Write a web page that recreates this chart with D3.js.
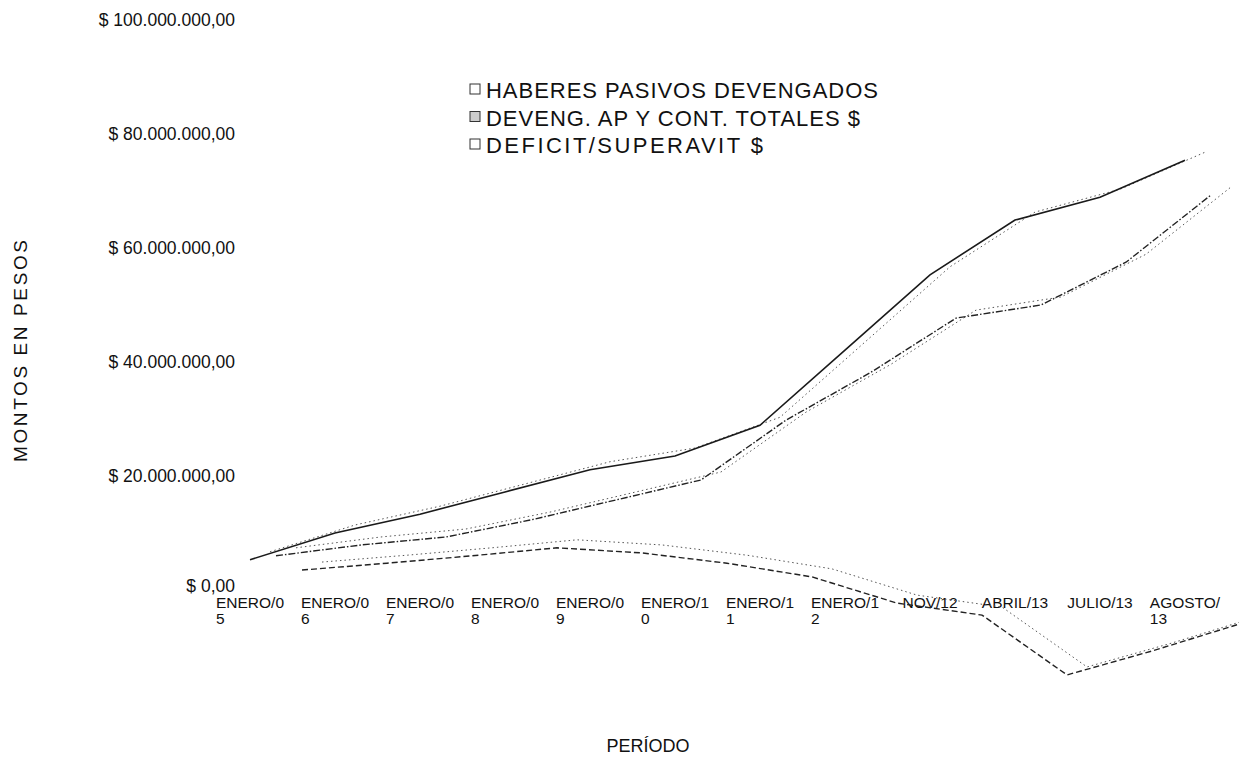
<!DOCTYPE html>
<html>
<head>
<meta charset="utf-8">
<script src="https://cdnjs.cloudflare.com/ajax/libs/d3/7.8.5/d3.min.js"></script>
<style>
  body { margin: 0; background: #fff; }
  text { font-family: "Liberation Sans", Arial, sans-serif; fill: #111; }
</style>
</head>
<body>
<div id="chart"></div>
<script>
// Periods and their (wrapped) tick labels
const periods = ["ENERO/05", "ENERO/06", "ENERO/07", "ENERO/08", "ENERO/09", "ENERO/10",
    "ENERO/11", "ENERO/12", "NOV/12", "ABRIL/13", "JULIO/13", "AGOSTO/13"];
const tickLabels = ["ENERO/0\n5", "ENERO/0\n6", "ENERO/0\n7", "ENERO/0\n8", "ENERO/0\n9", "ENERO/1\n0",
    "ENERO/1\n1", "ENERO/1\n2", "NOV/12", "ABRIL/13", "JULIO/13", "AGOSTO/\n13"];

// Series values, in pesos
const haberes = [5.3e6, 10.0e6, 13.3e6, 17.2e6, 21.1e6, 23.5e6, 28.9e6, 42.1e6, 55.3e6, 64.9e6, 68.9e6, 75.4e6];
const deveng = [6.0e6, 7.9e6, 9.3e6, 12.3e6, 15.8e6, 19.3e6, 29.8e6, 38.2e6, 47.7e6, 50.0e6, 57.5e6, 69.3e6];
const deficit = [3.5e6, 4.7e6, 6.0e6, 7.4e6, 6.5e6, 4.7e6, 2.3e6, -2.3e6, -4.4e6, -14.9e6, -10.7e6, -6.1e6];

const seriesNames = ["HABERES PASIVOS DEVENGADOS", "DEVENG. AP Y CONT. TOTALES $", "DEFICIT/SUPERAVIT $"];
const legendWidths = [392, 374, 277];
const yTicks = [0, 20e6, 40e6, 60e6, 80e6, 100e6];

const width = 1239, height = 779;

const svg = d3.select("#chart").append("svg")
    .attr("width", width)
    .attr("height", height);

const locale = d3.formatLocale({ decimal: ",", thousands: ".", grouping: [3], currency: ["$ ", ""] });
const fmt = locale.format("$,.2f");

const x = d3.scaleBand()
    .domain(periods)
    .range([207.5, 1227.5]);

const y = d3.scaleLinear()
    .domain([0, 100e6])
    .range([590, 20]);

// y axis (labels only)
const yAxis = svg.append("g")
    .attr("transform", "translate(235,0)")
    .call(d3.axisLeft(y).tickValues(yTicks).tickSize(0).tickPadding(0).tickFormat(fmt));
yAxis.select(".domain").remove();
yAxis.selectAll("text")
    .style("font-family", '"Liberation Sans", Arial, sans-serif')
    .style("font-size", "17.5px")
    .attr("fill", "#111")
    .attr("dy", d => d === 0 ? "0.1em" : "0.32em");

// x axis (wrapped labels)
const xAxis = svg.append("g")
    .attr("transform", "translate(0,596)")
    .call(d3.axisBottom(x).tickSize(0).tickPadding(0).tickFormat(""));
xAxis.select(".domain").remove();
xAxis.selectAll(".tick").each(function(d, i) {
    const lines = tickLabels[i].split("\n");
    const t = d3.select(this).append("text")
        .attr("fill", "#111")
        .style("font-family", '"Liberation Sans", Arial, sans-serif')
        .style("font-size", "15.5px")
        .attr("text-anchor", "start");
    lines.forEach((ln, j) => {
        t.append("tspan").attr("x", 0).attr("dy", j === 0 ? "0.8em" : "1.0em").text(ln);
    });
    const first = t.select("tspan").node();
    const w = Math.min(first.getComputedTextLength(), 80);
    t.selectAll("tspan").attr("x", -w / 2);
});

// lines, each series pushed back in depth like the 3D original
const depth = [0, 26, 52];
const back = { dx: 20, dy: -8 };
const allSeries = [haberes, deveng, deficit];
const frontStyles = [
    { dash: null, width: 1.6, color: "#1a1a1a" },
    { dash: "7,2,1.5,2", width: 1.4, color: "#222" },
    { dash: "6,3", width: 1.4, color: "#222" }
];

allSeries.forEach((vals, k) => {
    const line = d3.line()
        .x((v, i) => x(periods[i]) + x.bandwidth() / 2 + depth[k])
        .y(v => y(v));
    const backLine = d3.line()
        .x((v, i) => x(periods[i]) + x.bandwidth() / 2 + depth[k] + back.dx)
        .y(v => y(v) + back.dy);

    svg.append("path")
        .datum(vals)
        .attr("fill", "none")
        .attr("stroke", "#555")
        .attr("stroke-width", 1)
        .attr("stroke-dasharray", "1.5,3")
        .attr("d", backLine);

    svg.append("path")
        .datum(vals)
        .attr("fill", "none")
        .attr("stroke", frontStyles[k].color)
        .attr("stroke-width", frontStyles[k].width)
        .attr("stroke-dasharray", frontStyles[k].dash)
        .attr("d", line);
});

// legend
const legend = svg.append("g").attr("transform", "translate(470,80)");
seriesNames.forEach((name, i) => {
    const g = legend.append("g").attr("transform", `translate(0,${i * 27.5})`);
    g.append("rect")
        .attr("x", 0).attr("y", 4)
        .attr("width", 10).attr("height", 10)
        .attr("fill", i === 1 ? "#ccc" : "#fff")
        .attr("stroke", "#333")
        .attr("stroke-width", 1);
    g.append("text")
        .attr("x", 16).attr("y", 18)
        .style("font-size", "22px")
        .attr("textLength", legendWidths[i])
        .attr("lengthAdjust", "spacing")
        .text(name);
});

// axis titles
svg.append("text")
    .attr("transform", "translate(27,351) rotate(-90)")
    .attr("text-anchor", "middle")
    .style("font-size", "19px")
    .attr("textLength", 222)
    .attr("lengthAdjust", "spacing")
    .text("MONTOS EN PESOS");

svg.append("text")
    .attr("x", 648).attr("y", 752)
    .attr("text-anchor", "middle")
    .style("font-size", "18px")
    .text("PERÍODO");
</script>
</body>
</html>
